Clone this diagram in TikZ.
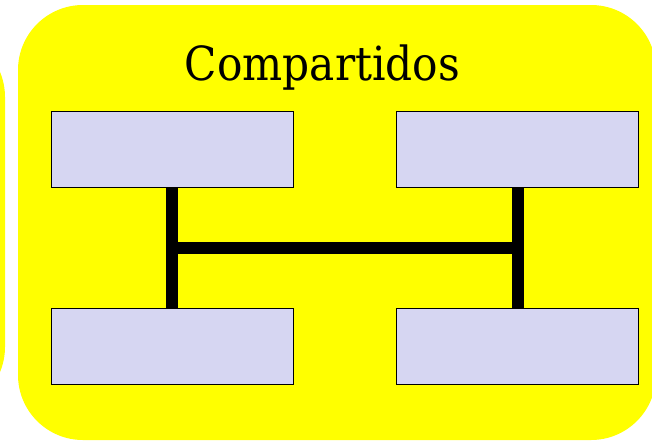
\documentclass[tikz,border=0pt]{standalone}
\usepackage{fontspec}
\setmainfont{DejaVu Serif}
\newfontfamily\titlefont{DejaVu Serif Condensed}
\usetikzlibrary{calc,positioning}
\definecolor{panelyellow}{RGB}{255,255,0}
\definecolor{boxlav}{RGB}{214,214,242}
\tikzset{
  panel/.style={fill=panelyellow, rounded corners=65pt},
  box/.style={draw, fill=boxlav, line width=1pt, minimum width=242pt, minimum height=76pt, inner sep=0pt},
  bar/.style={line width=12pt}
}

\begin{document}
\begin{tikzpicture}[x=1pt, y=-1pt]
  \useasboundingbox (0,0) rectangle (652,442);
  \fill[panel] (-200,32) rectangle (5,412);
  \fill[panel] (18,5) rectangle (656,440);
  \node[font=\titlefont\fontsize{47}{50}\selectfont, anchor=base, inner sep=0pt] (title) at (322.5,80) {Compartidos};

  \node[box] (tl) at (172,149) {};
  \node[box] (tr) at (517.5,149) {};
  \node[box] (bl) at (172,346) {};
  \node[box] (br) at (517.5,346) {};

  \coordinate (jl) at ($(tl.south)!0.5!(bl.north)$);
  \coordinate (jr) at ($(tr.south)!0.5!(br.north)$);

  \draw[bar] (tl.south) -- (bl.north);
  \draw[bar] (tr.south) -- (br.north);
  \draw[bar] (jl) -- (jr);
\end{tikzpicture}
\end{document}
